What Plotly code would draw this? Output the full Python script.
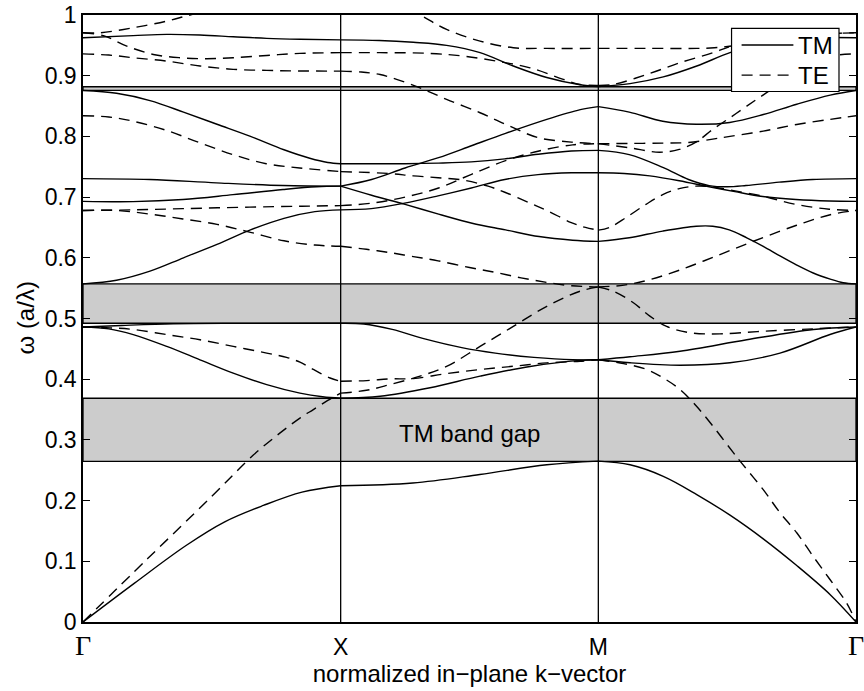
import plotly.graph_objects as go

# High-symmetry points along the normalized in-plane k path
K_TICKS = [0, 1, 2, 3]
K_LABELS = ["Γ", "X", "M", "Γ"]

# Band gaps (lower edge, upper edge) in units of a/λ
GAP_LO = [0.2647, 0.4922, 0.8757]
GAP_HI = [0.3686, 0.5570, 0.8818]

# TM bands, sampled as (k, ω) along Γ–X–M–Γ
tm1 = [(0, 0), (0.2, 0.064), (0.4, 0.126), (0.55, 0.165), (0.7, 0.192), (0.85, 0.214), (1, 0.2245),
       (1.28, 0.229), (1.54, 0.243), (1.8, 0.259), (2, 0.265),
       (2.123, 0.259), (2.252, 0.24), (2.382, 0.21), (2.511, 0.176), (2.64, 0.137), (2.77, 0.093),
       (2.9, 0.045), (3, 0)]
tm2 = [(0, 0.486), (0.1, 0.483), (0.195, 0.4735), (0.325, 0.454), (0.454, 0.432), (0.583, 0.41),
       (0.713, 0.391), (0.842, 0.377), (0.93, 0.371), (1, 0.3686),
       (1.153, 0.372), (1.347, 0.386), (1.541, 0.405), (1.735, 0.421), (1.929, 0.431), (2, 0.432),
       (2.123, 0.427), (2.317, 0.423), (2.511, 0.427), (2.705, 0.443), (2.899, 0.4736), (3, 0.486)]
tm3 = [(0, 0.486), (0.15, 0.4885), (0.35, 0.4912), (0.6, 0.492), (1, 0.4922),
       (1.09, 0.491), (1.2, 0.482), (1.33, 0.466), (1.47, 0.452), (1.6, 0.443), (1.75, 0.436),
       (1.9, 0.432), (2, 0.432),
       (2.123, 0.437), (2.317, 0.446), (2.576, 0.465), (2.835, 0.482), (3, 0.486)]
tm4 = [(0, 0.557), (0.13, 0.563), (0.26, 0.578), (0.39, 0.6), (0.52, 0.622), (0.65, 0.646),
       (0.78, 0.665), (0.9, 0.676), (1, 0.679),
       (1.119, 0.681), (1.248, 0.69), (1.378, 0.702), (1.507, 0.715), (1.637, 0.729), (1.766, 0.737),
       (1.895, 0.74), (2, 0.74),
       (2.1, 0.739), (2.2, 0.735), (2.314, 0.727), (2.43, 0.717), (2.53, 0.709), (2.638, 0.701),
       (2.767, 0.696), (2.896, 0.6935), (3, 0.693)]
tm5 = [(0, 0.693), (0.194, 0.6925), (0.388, 0.696), (0.582, 0.704), (0.776, 0.7125), (0.906, 0.717),
       (1, 0.718),
       (1.12, 0.729), (1.25, 0.748), (1.38, 0.765), (1.51, 0.785), (1.64, 0.805), (1.8, 0.828),
       (1.93, 0.844), (2, 0.849),
       (2.12, 0.84), (2.25, 0.825), (2.38, 0.82), (2.51, 0.823), (2.64, 0.836), (2.77, 0.853),
       (2.9, 0.868), (3, 0.8757)]
tm6 = [(0, 0.7305), (0.259, 0.729), (0.517, 0.7235), (0.776, 0.719), (1, 0.718),
       (1.12, 0.703), (1.25, 0.688), (1.38, 0.672), (1.51, 0.657), (1.64, 0.646), (1.77, 0.635),
       (1.9, 0.629), (2, 0.627),
       (2.12, 0.633), (2.25, 0.644), (2.38, 0.652), (2.444, 0.652), (2.508, 0.646), (2.576, 0.633),
       (2.64, 0.619), (2.705, 0.603), (2.77, 0.588), (2.834, 0.575), (2.9, 0.565), (2.95, 0.559),
       (3, 0.557)]
tm7 = [(0, 0.8757), (0.13, 0.871), (0.26, 0.859), (0.39, 0.84), (0.52, 0.82), (0.65, 0.8),
       (0.78, 0.778), (0.88, 0.764), (0.95, 0.757), (1, 0.755),
       (1.25, 0.755), (1.38, 0.756), (1.507, 0.758), (1.637, 0.763), (1.766, 0.7705), (1.895, 0.776),
       (2, 0.777),
       (2.12, 0.77), (2.25, 0.749), (2.35, 0.729), (2.43, 0.719), (2.5, 0.717), (2.573, 0.719),
       (2.702, 0.7246), (2.832, 0.729), (3, 0.7305)]
tm8 = [(0, 0.9626), (0.195, 0.966), (0.325, 0.968), (0.454, 0.967), (0.583, 0.9642), (0.713, 0.9615),
       (0.842, 0.96), (1, 0.959),
       (1.15, 0.958), (1.282, 0.955), (1.411, 0.95), (1.541, 0.938), (1.67, 0.916), (1.8, 0.897),
       (1.929, 0.885), (2, 0.882),
       (2.123, 0.887), (2.252, 0.898), (2.382, 0.916), (2.511, 0.938), (2.65, 0.955), (2.8, 0.962),
       (3, 0.9626)]

# TE bands, sampled as (k, ω) along Γ–X–M–Γ
te1 = [(0, 0), (0.25, 0.104), (0.5, 0.207), (0.661, 0.275), (0.765, 0.3115), (0.842, 0.336),
       (0.894, 0.35), (0.95, 0.365), (1, 0.377),
       (1.1, 0.3817), (1.19, 0.391), (1.308, 0.405), (1.411, 0.421), (1.541, 0.454), (1.67, 0.487),
       (1.8, 0.52), (1.929, 0.545), (2, 0.552),
       (2.058, 0.545), (2.136, 0.526), (2.2, 0.504), (2.265, 0.487), (2.356, 0.4765), (2.472, 0.4747),
       (2.64, 0.479), (2.834, 0.483), (3, 0.486)]
te2 = [(0, 0.486), (0.105, 0.4846), (0.195, 0.482), (0.325, 0.4735), (0.454, 0.465), (0.583, 0.454),
       (0.713, 0.443), (0.79, 0.436), (0.842, 0.428), (0.894, 0.416), (0.959, 0.402), (1, 0.3966),
       (1.101, 0.3977), (1.191, 0.4005), (1.282, 0.401), (1.411, 0.4093), (1.541, 0.4159),
       (1.67, 0.4213), (1.8, 0.4269), (1.929, 0.4295), (2, 0.432),
       (2.098, 0.4257), (2.188, 0.416), (2.252, 0.402), (2.317, 0.383), (2.382, 0.355), (2.446, 0.322),
       (2.524, 0.279), (2.55, 0.265), (2.64, 0.218), (2.705, 0.18), (2.77, 0.147), (2.834, 0.108),
       (2.899, 0.07), (2.964, 0.031), (3, 0)]
te3 = [(0, 0.678), (0.13, 0.678), (0.26, 0.672), (0.388, 0.664), (0.52, 0.655), (0.65, 0.642),
       (0.78, 0.628), (0.9, 0.621), (1, 0.619),
       (1.1, 0.614), (1.184, 0.609), (1.282, 0.602), (1.378, 0.595), (1.5, 0.584), (1.6, 0.576),
       (1.7, 0.567), (1.8, 0.5595), (1.895, 0.554), (2, 0.552),
       (2.1, 0.555), (2.2, 0.564), (2.317, 0.58), (2.446, 0.601), (2.576, 0.623), (2.7, 0.643),
       (2.8, 0.658), (2.9, 0.671), (3, 0.678)]
te4 = [(0, 0.678), (0.2, 0.679), (0.388, 0.681), (0.647, 0.6835), (0.85, 0.685), (1, 0.686),
       (1.12, 0.69), (1.25, 0.70), (1.38, 0.715), (1.51, 0.738), (1.64, 0.76), (1.77, 0.776),
       (1.9, 0.786), (2, 0.788),
       (2.123, 0.7884), (2.252, 0.789), (2.35, 0.79), (2.45, 0.796), (2.511, 0.8), (2.64, 0.8087),
       (2.77, 0.8197), (2.899, 0.828), (3, 0.834)]
te5 = [(0, 0.834), (0.1, 0.832), (0.195, 0.825), (0.323, 0.81), (0.453, 0.7895), (0.582, 0.77),
       (0.711, 0.755), (0.841, 0.748), (1, 0.742),
       (1.184, 0.739), (1.282, 0.735), (1.378, 0.732), (1.476, 0.728), (1.572, 0.718), (1.637, 0.708),
       (1.735, 0.69), (1.8, 0.678), (1.895, 0.658), (1.95, 0.65), (2, 0.6455),
       (2.043, 0.65), (2.11, 0.667), (2.185, 0.688), (2.25, 0.704), (2.314, 0.714), (2.379, 0.718),
       (2.44, 0.717), (2.508, 0.712), (2.638, 0.7015), (2.767, 0.688), (2.896, 0.68), (3, 0.678)]
te6 = [(0, 0.936), (0.1, 0.934), (0.195, 0.9296), (0.325, 0.924), (0.454, 0.916), (0.583, 0.9105),
       (0.713, 0.9087), (0.842, 0.9078), (1, 0.9076),
       (1.08, 0.906), (1.153, 0.902), (1.217, 0.894), (1.308, 0.88), (1.411, 0.861), (1.541, 0.839),
       (1.65, 0.818), (1.766, 0.798), (1.895, 0.7906), (2, 0.788),
       (2.12, 0.7813), (2.237, 0.774), (2.314, 0.7785), (2.379, 0.7906), (2.444, 0.8115),
       (2.511, 0.8307), (2.576, 0.85), (2.653, 0.872), (2.75, 0.9), (2.85, 0.924), (2.93, 0.934),
       (3, 0.936)]
te7 = [(0, 0.9707), (0.079, 0.966), (0.17, 0.9487), (0.273, 0.935), (0.376, 0.9296), (0.48, 0.928),
       (0.583, 0.9296), (0.713, 0.9334), (0.842, 0.9367), (1, 0.938),
       (1.153, 0.938), (1.347, 0.9367), (1.476, 0.9323), (1.605, 0.924), (1.735, 0.913),
       (1.864, 0.894), (1.929, 0.8856), (2, 0.884),
       (2.058, 0.8856), (2.188, 0.902), (2.317, 0.9214), (2.446, 0.938), (2.517, 0.9488),
       (2.65, 0.962), (2.8, 0.968), (2.935, 0.97), (3, 0.9707)]
te8 = [(0, 0.9707), (0.066, 0.9707), (0.195, 0.979), (0.325, 0.99), (0.415, 1.0), (0.7, 1.03),
       (1, 1.05),
       (1.15, 1.035), (1.308, 1.0), (1.411, 0.9763), (1.541, 0.957), (1.67, 0.9461), (1.8, 0.945),
       (2, 0.945),
       (2.188, 0.945), (2.382, 0.945), (2.45, 0.946), (2.517, 0.949), (2.65, 0.958), (2.8, 0.966),
       (2.935, 0.97), (3, 0.9707)]

TM_BANDS = [tm1, tm2, tm3, tm4, tm5, tm6, tm7, tm8]
TE_BANDS = [te1, te2, te3, te4, te5, te6, te7, te8]

FONT = "Liberation Sans, Arial, Helvetica, sans-serif"
TE_DASH = "11px,7px"


def path_segments(bands):
    """Split every band into its Γ–X, X–M and M–Γ legs, separated by gaps."""
    xs, ys = [], []
    for band in bands:
        for a, b in zip(K_TICKS[:-1], K_TICKS[1:]):
            leg = [p for p in band if a <= p[0] <= b]
            xs += [p[0] for p in leg] + [None]
            ys += [p[1] for p in leg] + [None]
    return xs, ys


fig = go.Figure()

for name, bands, dash in [("TM", TM_BANDS, "solid"), ("TE", TE_BANDS, TE_DASH)]:
    xs, ys = path_segments(bands)
    fig.add_trace(go.Scatter(
        x=xs, y=ys, mode="lines", name=name, connectgaps=False, showlegend=False,
        line=dict(color="black", width=1.4, dash=dash, shape="spline", smoothing=1.0),
        hoverinfo="skip",
    ))

# Shaded photonic band gaps
for lo, hi in zip(GAP_LO, GAP_HI):
    fig.add_shape(type="rect", xref="x", yref="y", x0=K_TICKS[0], x1=K_TICKS[-1], y0=lo, y1=hi,
                  fillcolor="#cccccc", line=dict(color="black", width=1.3), layer="below")

# Vertical guides at X and M
for k in K_TICKS[1:-1]:
    fig.add_shape(type="line", xref="x", yref="y", x0=k, x1=k, y0=0, y1=1,
                  line=dict(color="black", width=1.3), layer="above")

fig.add_annotation(x=(K_TICKS[1] + K_TICKS[2]) / 2, y=0.31, xref="x", yref="y",
                   text="TM band gap", showarrow=False,
                   font=dict(family=FONT, size=24, color="black"))

# Legend box drawn in the upper-right corner of the axes
fig.add_shape(type="rect", xref="paper", yref="paper", x0=0.839, x1=0.978, y0=0.874, y1=0.978,
              fillcolor="white", line=dict(color="black", width=1.2), layer="above")
for label, dash, ypos in [("TM", "solid", 0.9505), ("TE", TE_DASH, 0.901)]:
    fig.add_shape(type="line", xref="paper", yref="paper", x0=0.852, x1=0.919, y0=ypos, y1=ypos,
                  line=dict(color="black", width=1.4, dash=dash), layer="above")
    fig.add_annotation(x=0.922, y=ypos, xref="paper", yref="paper", text=label,
                       showarrow=False, xanchor="left", yanchor="middle",
                       font=dict(family=FONT, size=24, color="black"))

# Vertical axis title
fig.add_annotation(x=-0.075, y=0.5, xref="paper", yref="paper", text="ω (a/λ)",
                   textangle=-90, showarrow=False, xanchor="center", yanchor="middle",
                   font=dict(family=FONT, size=24, color="black"))

gamma = '<span style="font-family:Liberation Serif, Times New Roman, serif;font-size:28px">Γ</span>'
tick_text = [gamma if t == "Γ" else t for t in K_LABELS]

y_ticks = [i / 10 for i in range(11)]
y_text = ["0"] + [f"{v:.1f}" for v in y_ticks[1:-1]] + ["1"]

fig.update_layout(
    width=864, height=691,
    margin=dict(l=83, r=8, t=15, b=69),
    paper_bgcolor="white", plot_bgcolor="white",
    font=dict(family=FONT, size=23, color="black"),
    showlegend=False,
    xaxis=dict(range=[K_TICKS[0], K_TICKS[-1]], tickvals=K_TICKS, ticktext=tick_text,
               ticks="inside", ticklen=7, tickcolor="black", showgrid=False, zeroline=False,
               showline=True, linecolor="black", linewidth=1.5, mirror="ticks", automargin=False,
               ticklabeloverflow="allow", ticklabelstandoff=4,
               title=dict(text="normalized in−plane k−vector", font=dict(size=24), standoff=3)),
    yaxis=dict(range=[0, 1], tickvals=y_ticks, ticktext=y_text,
               ticks="inside", ticklen=7, tickcolor="black", showgrid=False, zeroline=False,
               showline=True, linecolor="black", linewidth=1.5, mirror="ticks", automargin=False,
               ticklabeloverflow="allow"),
)

fig.write_html("out.html")
